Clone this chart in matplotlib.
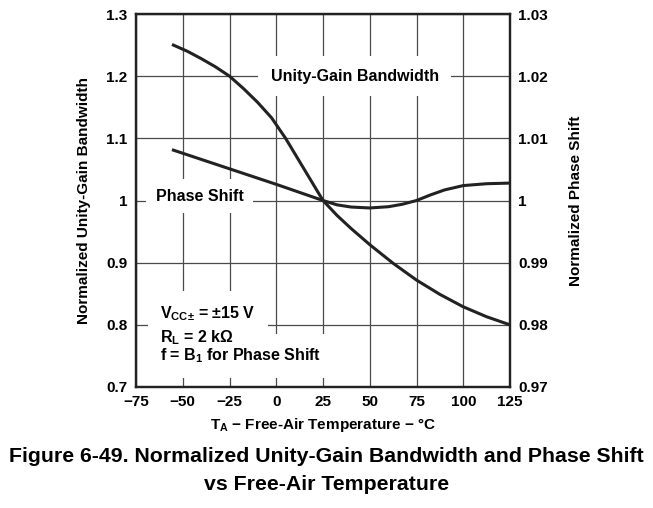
import numpy as np
import matplotlib
matplotlib.use('Agg')
import matplotlib.pyplot as plt

plt.rcParams['font.family'] = ['Liberation Sans', 'DejaVu Sans']
plt.rcParams['font.weight'] = 'bold'
plt.rcParams['axes.labelweight'] = 'bold'
plt.rcParams['mathtext.fontset'] = 'custom'
plt.rcParams['mathtext.rm'] = 'Liberation Sans:bold'
plt.rcParams['mathtext.it'] = 'Liberation Sans:bold'
plt.rcParams['mathtext.bf'] = 'Liberation Sans:bold'

# unity-gain bandwidth (left axis)
ugb_temp = [-55, -47.5, -40, -32.5, -25, -17.5, -10, -2.5, 5, 10, 15, 20, 25,
            32.5, 40, 50, 62.5, 75, 87.5, 100, 112.5, 125]
ugb_val = [1.25, 1.24, 1.228, 1.215, 1.2, 1.18, 1.158, 1.133, 1.1, 1.075, 1.05, 1.025, 1.0,
           0.976, 0.955, 0.929, 0.899, 0.872, 0.849, 0.829, 0.813, 0.8]

# phase shift (right axis)
ph_temp = [-55, -25, 0, 25, 32.5, 40, 50, 60, 67.5, 75, 82.5, 90, 100, 112.5, 125]
ph_val = [1.0081, 1.0051, 1.0026, 1.0, 0.9993, 0.99895, 0.9988, 0.9990, 0.9994, 1.0,
          1.0009, 1.0017, 1.0024, 1.0027, 1.0028]

x_ticks = [-75, -50, -25, 0, 25, 50, 75, 100, 125]
x_labels = ['\u221275', '\u221250', '\u221225', '0', '25', '50', '75', '100', '125']
y_ticks = [0.7, 0.8, 0.9, 1.0, 1.1, 1.2, 1.3]
y_labels = ['0.7', '0.8', '0.9', '1', '1.1', '1.2', '1.3']
y2_ticks = [0.97, 0.98, 0.99, 1.0, 1.01, 1.02, 1.03]
y2_labels = ['0.97', '0.98', '0.99', '1', '1.01', '1.02', '1.03']

cond_lines = ['V$_{\\mathregular{CC\u00b1}}$ = \u00b115 V\nR$_\\mathregular{L}$ = 2 k\u03a9',
              'f = B$_\\mathregular{1}$ for Phase Shift']
cond_y = [0.799, 0.750]

fig = plt.figure(figsize=(6.53, 5.08), dpi=100)
ax = fig.add_axes([136/653, 1 - 387/508, (510-136)/653, (387-14)/508])
ax2 = ax.twinx()

ax.set_xlim(-75, 125)
ax.set_ylim(0.7, 1.3)
ax2.set_ylim(0.97, 1.03)
ax.set_xticks(x_ticks)
ax.set_xticklabels(x_labels)
ax.set_yticks(y_ticks)
ax.set_yticklabels(y_labels)
ax2.set_yticks(y2_ticks)
ax2.set_yticklabels(y2_labels)

for a in (ax, ax2):
    a.tick_params(length=0, labelsize=11, pad=6)
    for s in a.spines.values():
        s.set_linewidth(1.6)
        s.set_color('#222222')

ax.grid(True, color='#4a4a4a', linewidth=0.9)
ax.set_axisbelow(True)

ax.plot(ugb_temp, ugb_val, color='#222222', linewidth=2.2, zorder=3)
ax2.plot(ph_temp, ph_val, color='#222222', linewidth=2.2, zorder=3)

ax.set_xlabel('T$_\\mathregular{A}$ \u2212 Free-Air Temperature \u2212 \u00b0C', fontsize=11, labelpad=5)
ax.set_ylabel('Normalized Unity-Gain Bandwidth', fontsize=11, labelpad=11)
ax2.set_ylabel('Normalized Phase Shift', fontsize=11, labelpad=15)

ax.text(42, 1.2, 'Unity-Gain Bandwidth', fontsize=11.5, ha='center', va='center', zorder=2,
        bbox=dict(facecolor='white', edgecolor='none', pad=9))
ax.text(-41, 1.007, 'Phase Shift', fontsize=11.5, ha='center', va='center', zorder=2,
        bbox=dict(facecolor='white', edgecolor='none', pad=7))

# white patches behind the conditions text first, then the text on top
for txt, yy in zip(cond_lines, cond_y):
    ax.text(-62, yy, txt, fontsize=11.5, ha='left', va='center', linespacing=1.4,
            color='none', zorder=1.8,
            bbox=dict(facecolor='white', edgecolor='none', pad=9))
for txt, yy in zip(cond_lines, cond_y):
    ax.text(-62, yy, txt, fontsize=11.5, ha='left', va='center', linespacing=1.4, zorder=2.5)

fig.text(0.5, 1 - 457/508, 'Figure 6-49. Normalized Unity-Gain Bandwidth and Phase Shift',
         fontsize=15.3, ha='center', va='center')
fig.text(0.5, 1 - 484/508, 'vs Free-Air Temperature', fontsize=15.3, ha='center', va='center')

fig.savefig('out.png', dpi=100)
